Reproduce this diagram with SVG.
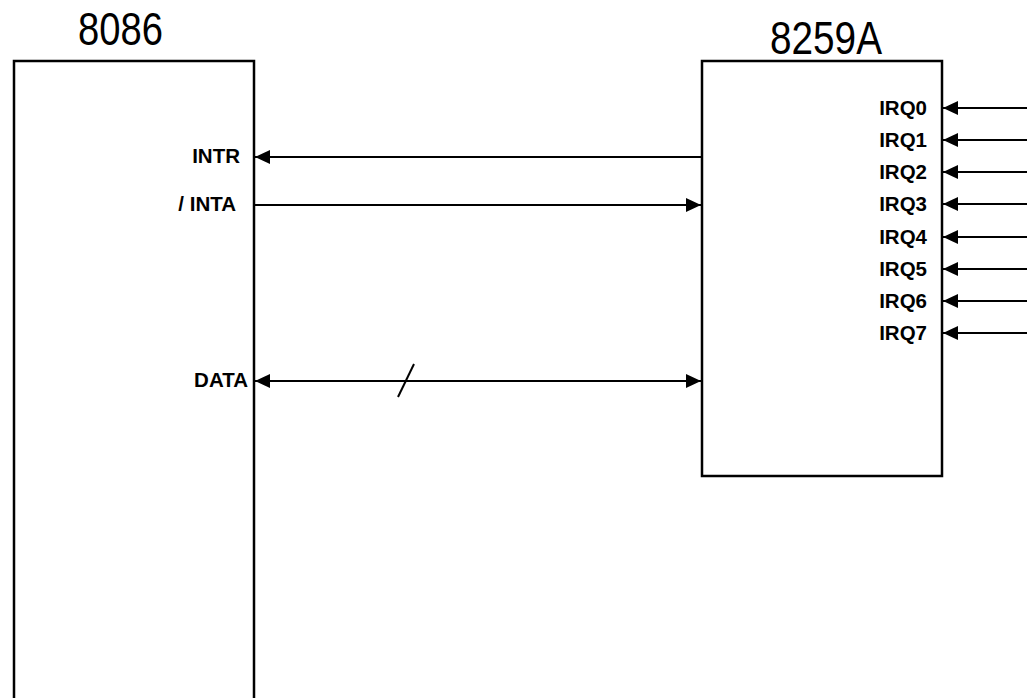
<svg xmlns="http://www.w3.org/2000/svg" width="1027" height="698" viewBox="0 0 1027 698">
<style>
.box{fill:#fff;stroke:#000;stroke-width:2.5}
.title{font-family:"Liberation Sans",Arial,sans-serif;font-size:46px;fill:#000}
.lbl{font-family:"Liberation Sans",Arial,sans-serif;font-size:20.5px;font-weight:bold;fill:#000;text-anchor:end}
.wire{stroke:#000;stroke-width:2;fill:none}
</style>
<defs>
<marker id="ah" markerUnits="userSpaceOnUse" markerWidth="16" markerHeight="14" refX="15" refY="7" orient="auto-start-reverse">
<path d="M0,0 L15,7 L0,14 Z" fill="#000"/>
</marker>
</defs>
<rect width="1027" height="698" fill="#fff"/>
<g id="cpu8086">
<rect class="box" x="14" y="61" width="240" height="700"/>
<text class="title" x="78" y="45" textLength="85" lengthAdjust="spacingAndGlyphs">8086</text>
<text class="lbl" x="240" y="163">INTR</text>
<text class="lbl" x="236" y="211">/ INTA</text>
<text class="lbl" x="248" y="387">DATA</text>
</g>
<g id="pic8259A">
<rect class="box" x="702" y="61" width="240" height="415"/>
<text class="title" x="770" y="54" textLength="112" lengthAdjust="spacingAndGlyphs">8259A</text>
<text class="lbl" x="927" y="115">IRQ0</text>
<text class="lbl" x="927" y="147">IRQ1</text>
<text class="lbl" x="927" y="179">IRQ2</text>
<text class="lbl" x="927" y="211">IRQ3</text>
<text class="lbl" x="927" y="244">IRQ4</text>
<text class="lbl" x="927" y="276">IRQ5</text>
<text class="lbl" x="927" y="308">IRQ6</text>
<text class="lbl" x="927" y="340">IRQ7</text>
</g>
<g id="connectors">
<line class="wire" x1="702" y1="157" x2="255" y2="157" marker-end="url(#ah)"/>
<line class="wire" x1="254" y1="205" x2="701" y2="205" marker-end="url(#ah)"/>
<line class="wire" x1="255" y1="381" x2="701" y2="381" marker-start="url(#ah)" marker-end="url(#ah)"/>
<line class="wire" x1="414" y1="364" x2="398" y2="397"/>
<line class="wire" x1="1027" y1="108" x2="943" y2="108" marker-end="url(#ah)"/>
<line class="wire" x1="1027" y1="140" x2="943" y2="140" marker-end="url(#ah)"/>
<line class="wire" x1="1027" y1="172" x2="943" y2="172" marker-end="url(#ah)"/>
<line class="wire" x1="1027" y1="204" x2="943" y2="204" marker-end="url(#ah)"/>
<line class="wire" x1="1027" y1="237" x2="943" y2="237" marker-end="url(#ah)"/>
<line class="wire" x1="1027" y1="269" x2="943" y2="269" marker-end="url(#ah)"/>
<line class="wire" x1="1027" y1="301" x2="943" y2="301" marker-end="url(#ah)"/>
<line class="wire" x1="1027" y1="333" x2="943" y2="333" marker-end="url(#ah)"/>
</g>
</svg>
